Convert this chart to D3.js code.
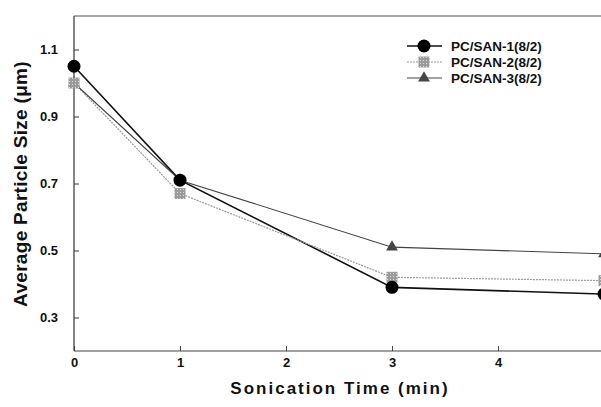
<!DOCTYPE html>
<html>
<head>
<meta charset="utf-8">
<script src="https://cdn.jsdelivr.net/npm/d3@7"></script>
<style>
  body { margin: 0; background: #fff; }
  svg { display: block; font-family: Arial, "Liberation Sans", sans-serif; }
</style>
</head>
<body>
<svg width="601" height="407"></svg>
<script>
const times = [0, 1, 3, 5]
const san1 = [1.05, 0.71, 0.39, 0.37]
const san2 = [1.00, 0.67, 0.42, 0.41]
const san3 = [1.00, 0.71, 0.51, 0.49]
const seriesNames = ["PC/SAN-1(8/2)", "PC/SAN-2(8/2)", "PC/SAN-3(8/2)"]
const xTicks = [0, 1, 2, 3, 4]
const yTicks = [0.3, 0.5, 0.7, 0.9, 1.1]

const svg = d3.select("svg")
const x = d3.scaleLinear().domain([0, 5]).range([74, 604])
const y = d3.scaleLinear().domain([0.2, 1.2]).range([351, 16])

// hatch pattern for the grey squares
const defs = svg.append("defs")
const pat = defs.append("pattern").attr("id", "hatch")
    .attr("width", 3).attr("height", 3).attr("patternUnits", "userSpaceOnUse")
pat.append("rect").attr("width", 3).attr("height", 3).attr("fill", "#9a9a9a")
pat.append("rect").attr("width", 1).attr("height", 1).attr("fill", "#ddd")

const series = [
    { name: seriesNames[0], values: san1, stroke: "#111", width: 1.6, dash: null, shape: "circle" },
    { name: seriesNames[1], values: san2, stroke: "#999", width: 1.2, dash: "2,1", shape: "square" },
    { name: seriesNames[2], values: san3, stroke: "#444", width: 1.1, dash: null, shape: "triangle" }
]

// frame
svg.append("line").attr("x1", 74).attr("x2", 601).attr("y1", 16).attr("y2", 16)
    .attr("stroke", "#555").attr("stroke-width", 1.2)
svg.append("line").attr("x1", 74).attr("x2", 74).attr("y1", 16).attr("y2", 351)
    .attr("stroke", "#333").attr("stroke-width", 1.2)
svg.append("line").attr("x1", 74).attr("x2", 601).attr("y1", 351).attr("y2", 351)
    .attr("stroke", "#444").attr("stroke-width", 1.2)

// axes, ticks inside
const xAxis = svg.append("g").attr("transform", "translate(0,351)")
    .call(d3.axisBottom(x).tickValues(xTicks).tickSize(-5).tickPadding(7).tickFormat(d3.format("d")))
xAxis.select(".domain").remove()
xAxis.selectAll("line").attr("stroke", "#444")
xAxis.selectAll("text").attr("font-size", 13).attr("font-weight", "bold").attr("fill", "#111")

const yAxis = svg.append("g").attr("transform", "translate(74,0)")
    .call(d3.axisLeft(y).tickValues(yTicks).tickSize(-5).tickPadding(16).tickFormat(d3.format(".1f")))
yAxis.select(".domain").remove()
yAxis.selectAll("line").attr("stroke", "#333")
yAxis.selectAll("text").attr("font-size", 13).attr("font-weight", "bold").attr("fill", "#111")

// axis titles
svg.append("text").attr("x", 340).attr("y", 394).attr("text-anchor", "middle")
    .attr("font-size", 17).attr("font-weight", "bold").attr("letter-spacing", 2).attr("fill", "#111")
    .text("Sonication Time (min)")
svg.append("text").attr("transform", "translate(27,184) rotate(-90)").attr("text-anchor", "middle")
    .attr("font-size", 19).attr("font-weight", "bold").attr("letter-spacing", 0.3).attr("fill", "#111")
    .text("Average Particle Size (μm)")

const line = d3.line().x((d, i) => x(times[i])).y(d => y(d))

function marker(g, shape, cx, cy) {
    if (shape === "circle") {
        g.append("circle").attr("cx", cx).attr("cy", cy).attr("r", 6.5).attr("fill", "#000")
    } else if (shape === "square") {
        g.append("rect").attr("x", cx - 5.5).attr("y", cy - 5.5).attr("width", 11).attr("height", 11)
            .attr("fill", "url(#hatch)")
    } else {
        g.append("path").attr("transform", `translate(${cx},${cy})`)
            .attr("d", d3.symbol(d3.symbolTriangle, 60)())
            .attr("fill", "#444")
    }
}

const plot = svg.append("g")
series.forEach(s => {
    plot.append("path").datum(s.values).attr("d", line)
        .attr("fill", "none").attr("stroke", s.stroke).attr("stroke-width", s.width)
        .attr("stroke-dasharray", s.dash)
})
series.slice().reverse().forEach(s => {
    s.values.forEach((v, i) => marker(plot, s.shape, x(times[i]), y(v)))
})

// legend
const legend = svg.append("g")
series.forEach((s, i) => {
    const ly = 46 + i * 16
    legend.append("line").attr("x1", 407).attr("x2", 442).attr("y1", ly).attr("y2", ly)
        .attr("stroke", s.stroke).attr("stroke-width", s.width).attr("stroke-dasharray", s.dash)
    marker(legend, s.shape, 424, ly)
    legend.append("text").attr("x", 451).attr("y", ly).attr("dy", "0.35em")
        .attr("font-size", 13.5).attr("font-weight", "bold").attr("fill", "#111")
        .text(s.name)
})
</script>
</body>
</html>
